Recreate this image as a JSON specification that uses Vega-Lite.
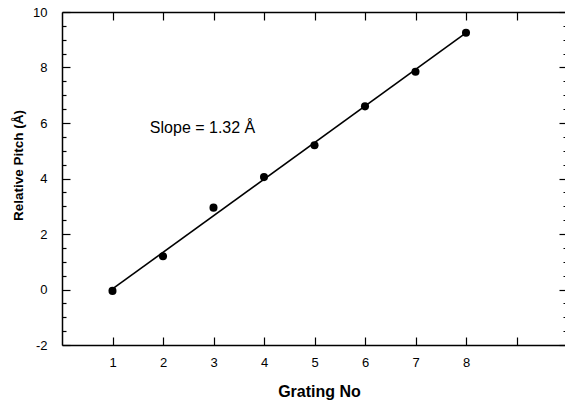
{
  "$schema": "https://vega.github.io/schema/vega-lite/v6.json",
  "width": 505,
  "height": 333,
  "autosize": "none",
  "padding": {"left": 62, "top": 12, "right": 0, "bottom": 55},
  "config": {
    "view": {"stroke": null},
    "font": "Liberation Sans",
    "axis": {
      "grid": false,
      "domainColor": "black",
      "domainWidth": 1.5,
      "tickColor": "black",
      "tickWidth": 1.2,
      "labelColor": "black",
      "labelFont": "Liberation Sans",
      "labelFontSize": 13,
      "titleColor": "black",
      "titleFont": "Liberation Sans",
      "titleFontSize": 14,
      "titleFontWeight": "bold"
    }
  },
  "datasets": {
    "points": [
      {"grating": 1, "pitch": -0.05},
      {"grating": 2, "pitch": 1.2},
      {"grating": 3, "pitch": 2.95},
      {"grating": 4, "pitch": 4.05},
      {"grating": 5, "pitch": 5.2},
      {"grating": 6, "pitch": 6.6},
      {"grating": 7, "pitch": 7.85},
      {"grating": 8, "pitch": 9.25}
    ],
    "fit": [
      {"grating": 1, "pitch": 0.02},
      {"grating": 8, "pitch": 9.25}
    ],
    "note": [
      {"grating": 1.74, "pitch": 5.81, "label": "Slope = 1.32 Å"}
    ]
  },
  "layer": [
    {
      "data": {"name": "points"},
      "mark": {"type": "point", "filled": true, "color": "black", "opacity": 1, "size": 65},
      "encoding": {
        "x": {
          "field": "grating", "type": "quantitative",
          "scale": {"domain": [0, 10], "nice": false, "zero": false},
          "axis": {
            "orient": "bottom", "title": "Grating No",
            "values": [1, 2, 3, 4, 5, 6, 7, 8, 9],
            "labelExpr": "datum.value < 9 ? '' + datum.value : ''",
            "tickSize": -8, "labelPadding": 19, "titlePadding": 14,
            "titleFontSize": 16, "titleX": 257
          }
        },
        "y": {
          "field": "pitch", "type": "quantitative",
          "scale": {"domain": [-2, 10], "nice": false, "zero": false},
          "axis": {
            "orient": "left", "title": "Relative Pitch (Å)",
            "values": [-2, -1.5, -1, -0.5, 0, 0.5, 1, 1.5, 2, 2.5, 3, 3.5, 4, 4.5, 5, 5.5, 6, 6.5, 7, 7.5, 8, 8.5, 9, 9.5, 10],
            "labelExpr": "datum.value % 2 === 0 ? '' + datum.value : ''",
            "tickSize": {"condition": {"test": "datum.value % 2 === 0", "value": -8}, "value": -4},
            "labelPadding": 23, "titlePadding": 7,
            "titleFontSize": 13.5, "titleY": 153
          }
        }
      }
    },
    {
      "data": {"name": "fit"},
      "mark": {"type": "line", "color": "black", "strokeWidth": 1.6},
      "encoding": {
        "x": {
          "field": "grating", "type": "quantitative",
          "scale": {"domain": [0, 10], "nice": false, "zero": false},
          "axis": {
            "orient": "top", "title": null, "labels": false,
            "values": [1, 2, 3, 4, 5, 6, 7, 8, 9],
            "tickSize": -8
          }
        },
        "y": {
          "field": "pitch", "type": "quantitative",
          "scale": {"domain": [-2, 10], "nice": false, "zero": false},
          "axis": {
            "orient": "right", "title": null, "labels": false,
            "values": [-2, -1.5, -1, -0.5, 0, 0.5, 1, 1.5, 2, 2.5, 3, 3.5, 4, 4.5, 5, 5.5, 6, 6.5, 7, 7.5, 8, 8.5, 9, 9.5, 10],
            "tickSize": {"condition": {"test": "datum.value % 2 === 0", "value": -8}, "value": -4}
          }
        }
      }
    },
    {
      "data": {"name": "note"},
      "mark": {"type": "text", "align": "left", "baseline": "middle", "fontSize": 16, "font": "Liberation Sans", "color": "black"},
      "encoding": {
        "x": {"field": "grating", "type": "quantitative", "axis": null},
        "y": {"field": "pitch", "type": "quantitative", "axis": null},
        "text": {"field": "label"}
      }
    }
  ],
  "resolve": {"axis": {"x": "independent", "y": "independent"}}
}
